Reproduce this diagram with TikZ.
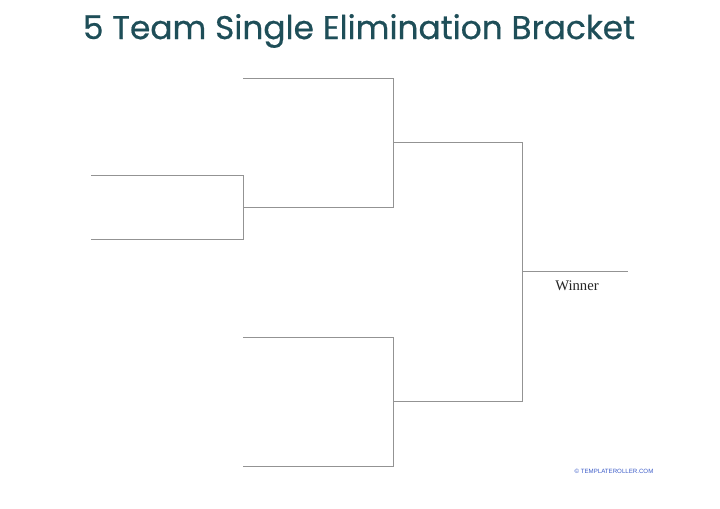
\documentclass[tikz,border=0pt]{standalone}
\usepackage{fontspec}
\setmainfont{Liberation Serif}
\newfontfamily\titlefont{Poppins}[FakeBold=0.6]
\newfontfamily\smallsans{Liberation Sans}
\definecolor{titleteal}{HTML}{1E4E58}
\definecolor{linegray}{HTML}{939393}
\definecolor{credblue}{HTML}{3B5BC8}
\begin{document}
\begin{tikzpicture}[x=0.75pt,y=-0.75pt,
  bline/.style={draw=linegray,line width=0.75pt},
  titletext/.style={font=\titlefont\fontsize{24.6}{28}\selectfont,text=titleteal},
  winnertext/.style={font=\fontsize{11}{13}\selectfont,text=black!85},
  credtext/.style={font=\smallsans\fontsize{4.6}{5}\selectfont,text=credblue}]
\useasboundingbox[fill=white] (0,0) rectangle (720,509);
\node[titletext] (title) at (359,31) {5 Team Single Elimination Bracket};
% round 1 (play-in)
\coordinate (a1) at (91,176);
\coordinate (a2) at (243,176);
\coordinate (b1) at (91,240);
\coordinate (b2) at (243,240);
\coordinate (ab) at (243,208);
% round 2
\coordinate (c1) at (243,79);
\coordinate (c2) at (393,79);
\coordinate (d2) at (393,208);
\coordinate (cd) at (393,143);
\coordinate (e1) at (243,337);
\coordinate (e2) at (393,337);
\coordinate (f1) at (243,466);
\coordinate (f2) at (393,466);
\coordinate (ef) at (393,401);
% final
\coordinate (g2) at (522,143);
\coordinate (h2) at (522,401);
\coordinate (gh) at (522,272);
\coordinate (w) at (628,272);
\draw[bline] (a1) -- (a2) -- (b2) -- (b1);
\draw[bline] (ab) -- (d2);
\draw[bline] (c1) -- (c2) -- (d2);
\draw[bline] (e1) -- (e2) -- (f2) -- (f1);
\draw[bline] (cd) -- (g2) -- (h2) -- (ef);
\draw[bline] (gh) -- (w);
\node[winnertext] (winner) at (577,286) {Winner};
\node[credtext] (cred) at (614,471) {© TEMPLATEROLLER.COM};
\end{tikzpicture}
\end{document}
